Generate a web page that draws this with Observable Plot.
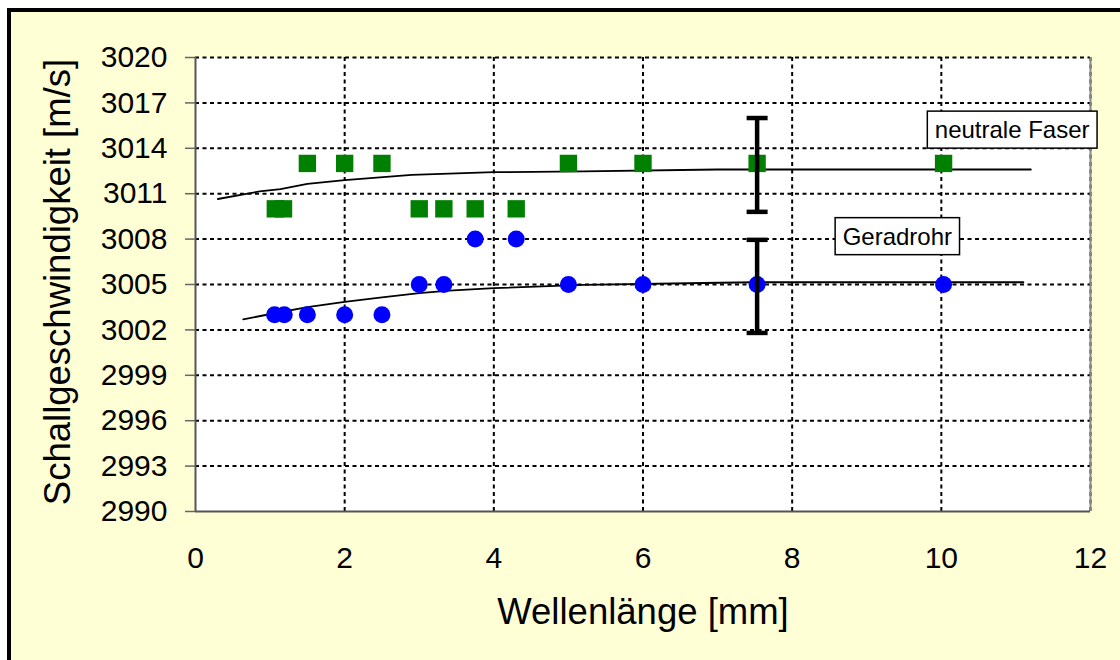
<!DOCTYPE html>
<html><head><meta charset="utf-8">
<script src="https://cdn.jsdelivr.net/npm/d3@7"></script>
<script src="https://cdn.jsdelivr.net/npm/@observablehq/plot@0.6"></script>
<style>
html,body{margin:0;padding:0;background:#fff;width:1120px;height:660px;overflow:hidden;}
#frame{position:absolute;left:7px;top:8px;width:1140px;height:680px;background:#FFFFD5;border-top:4px solid #000;border-left:4px solid #000;box-sizing:border-box;}
#chart{position:absolute;left:0;top:0;}
</style></head><body>
<div id="frame"></div><div id="chart"></div>
<script>
// neutrale Faser (green squares)
const faserX = [1.07, 1.18, 1.5, 2.0, 2.5, 3.0, 3.33, 3.75, 4.3, 5.0, 6.0, 7.53, 10.03];
const faserY = [3010, 3010, 3013, 3013, 3013, 3010, 3010, 3010, 3010, 3013, 3013, 3013, 3013];
// Geradrohr (blue circles)
const rohrX = [1.06, 1.19, 1.5, 2.0, 2.5, 3.0, 3.33, 3.75, 4.3, 5.0, 6.0, 7.53, 10.03];
const rohrY = [3003, 3003, 3003, 3003, 3003, 3005, 3005, 3008, 3008, 3005, 3005, 3005, 3005];
// trend curves
const faserTrendX = [0.3, 0.86, 1.14, 1.5, 2.0, 2.9, 4.0, 5.2, 7.0, 11.2];
const faserTrendY = [3010.65, 3011.15, 3011.3, 3011.65, 3011.9, 3012.25, 3012.42, 3012.48, 3012.6, 3012.6];
const rohrTrendX = [0.64, 1.06, 1.5, 2.0, 2.5, 3.0, 3.4, 4.0, 5.2, 6.8, 7.5, 11.1];
const rohrTrendY = [3002.7, 3003.1, 3003.5, 3003.85, 3004.15, 3004.43, 3004.6, 3004.76, 3004.98, 3005.1, 3005.15, 3005.15];
// error bars
const errX = [7.53, 7.53];
const errLow = [3009.8, 3001.8];
const errHigh = [3016.0, 3007.95];
// series labels
const labels = ["neutrale Faser", "Geradrohr"];
const labelX = [10.95, 9.41];
const labelY = [3015.18, 3008.14];
// ticks
const xTicks = [0, 2, 4, 6, 8, 10, 12];
const yTicks = [2990, 2993, 2996, 2999, 3002, 3005, 3008, 3011, 3014, 3017, 3020];
const xTitle = "Wellenlänge [mm]";
const yTitle = "Schallgeschwindigkeit [m/s]";

const faser = faserX.map((x, i) => ({x, y: faserY[i]}));
const rohr = rohrX.map((x, i) => ({x, y: rohrY[i]}));
const faserTrend = faserTrendX.map((x, i) => ({x, y: faserTrendY[i]}));
const rohrTrend = rohrTrendX.map((x, i) => ({x, y: rohrTrendY[i]}));
const errs = errX.map((x, i) => ({x, lo: errLow[i], hi: errHigh[i]}));
const labs = labels.map((t, i) => ({t, x: labelX[i], y: labelY[i]}));

const capSymbol = {
  draw(ctx, size) {
    const w = Math.sqrt(size / Math.PI);
    ctx.moveTo(-w, 0); ctx.lineTo(w, 0);
  }
};
const grid = {stroke: "#000", strokeOpacity: 1, strokeWidth: 2, strokeDasharray: "4,3.5"};

const chart = Plot.plot({
  width: 1120, height: 660,
  marginLeft: 195, marginRight: 30, marginTop: 57, marginBottom: 149,
  style: {background: "transparent", fontFamily: "'Liberation Sans', Arial, sans-serif", fontSize: "30px", color: "#000"},
  x: {domain: [0, 12]},
  y: {domain: [2990, 3020]},
  marks: [
    Plot.frame({fill: "#fff", stroke: "none"}),
    Plot.gridX(xTicks.slice(1), grid),
    Plot.gridY(yTicks.slice(1), grid),
    Plot.ruleX([12], {stroke: "#8a8a8a", strokeWidth: 2}),
    Plot.ruleX([0], {stroke: "#555", strokeWidth: 2}),
    Plot.ruleY([2990], {stroke: "#555", strokeWidth: 2}),
    Plot.axisY({ticks: yTicks, tickSize: 10, tickPadding: 18, tickFormat: d => String(d), label: null, stroke: "#666", strokeWidth: 1.5, fontSize: 30}),
    Plot.axisX({ticks: xTicks, tickSize: 0, tickPadding: 35, tickFormat: d => String(d), label: null, fontSize: 30}),
    Plot.line(faserTrend, {x: "x", y: "y", stroke: "#000", strokeWidth: 1.8}),
    Plot.line(rohrTrend, {x: "x", y: "y", stroke: "#000", strokeWidth: 1.8}),
    Plot.dot(faser, {x: "x", y: "y", symbol: "square", r: 9.8, fill: "#008000", stroke: "none"}),
    Plot.dot(rohr, {x: "x", y: "y", symbol: "circle", r: 8.5, fill: "#0000FF", stroke: "none"}),
    Plot.ruleX(errs, {x: "x", y1: "lo", y2: "hi", stroke: "#000", strokeWidth: 4.5}),
    Plot.dot(errs, {x: "x", y: "lo", symbol: capSymbol, r: 10.5, stroke: "#000", strokeWidth: 4.5, fill: "none"}),
    Plot.dot(errs, {x: "x", y: "hi", symbol: capSymbol, r: 10.5, stroke: "#000", strokeWidth: 4.5, fill: "none"}),
    Plot.text(labs, {x: "x", y: "y", text: "t", fontSize: 24, fill: "#000", textAnchor: "middle", lineAnchor: "middle", ariaDescription: "boxlabel"}),
    Plot.text([xTitle], {text: d => d, frameAnchor: "bottom", textAnchor: "middle", lineAnchor: "middle", dy: 101, fontSize: 36.5, fill: "#000"}),
    Plot.text([yTitle], {text: d => d, frameAnchor: "top-left", textAnchor: "middle", lineAnchor: "middle", rotate: -90, dx: -137, dy: 224.5, fontSize: 36.5, fill: "#000"})
  ]
});
document.getElementById("chart").appendChild(chart);

// draw boxes behind the series labels
d3.select(chart).selectAll("g[aria-description=boxlabel] text").each(function() {
  const b = this.getBBox();
  const padX = 7.5, padY = 5;
  d3.select(this.parentNode).insert("rect", () => this)
    .attr("transform", this.getAttribute("transform"))
    .attr("x", b.x - padX).attr("y", b.y - padY)
    .attr("width", b.width + 2 * padX).attr("height", b.height + 2 * padY)
    .attr("fill", "#fff").attr("stroke", "#000").attr("stroke-width", 1.5);
});
</script>
</body></html>
